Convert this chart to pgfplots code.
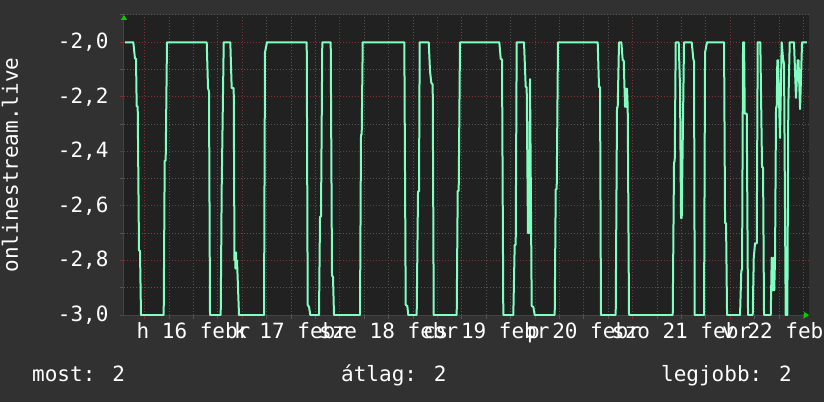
\documentclass[border=0pt]{standalone}
\usepackage{pgfplots}
\pgfplotsset{compat=1.18}
\usepackage{fontspec}
\setmainfont{DejaVu Sans Mono}
\usetikzlibrary{arrows.meta}
\definecolor{outerbg}{HTML}{313131}
\definecolor{canvas}{HTML}{212121}
\definecolor{series}{HTML}{80FFC0}
\definecolor{majgrid}{HTML}{7A3434}
\definecolor{mingrid}{HTML}{555555}
\definecolor{axisgray}{HTML}{444444}
\definecolor{arrowgreen}{HTML}{00D000}
\newcommand{\chartfont}{\fontsize{21}{24}\selectfont}
\pgfplotstableread{
h v
-4.84 -2.0
-2.80 -2.0
-2.39 -2.06
-2.14 -2.06
-1.97 -2.235
-1.72 -2.235
-1.40 -2.764
-1.16 -2.764
-0.91 -3.0
4.67 -3.0
4.92 -2.434
5.16 -2.434
5.48 -2.0
15.25 -2.0
15.57 -2.168
15.81 -2.18
16.06 -3.0
18.69 -3.0
18.93 -2.539
19.43 -2.0
21.05 -2.0
21.39 -2.168
21.89 -2.168
22.08 -2.80
22.20 -2.77
22.33 -2.83
22.45 -2.77
22.57 -2.83
22.70 -2.80
23.19 -3.0
29.34 -3.0
29.58 -2.037
30.07 -2.0
39.84 -2.0
40.08 -2.963
40.40 -2.97
40.72 -3.0
42.86 -3.0
43.11 -2.639
43.35 -2.639
43.67 -2.0
45.74 -2.0
46.06 -2.856
46.30 -2.86
46.55 -3.0
52.94 -3.0
53.19 -2.339
53.36 -2.339
53.61 -2.0
63.84 -2.0
64.18 -2.963
64.57 -2.967
64.82 -3.0
66.88 -3.0
67.21 -2.547
67.45 -2.547
67.62 -2.0
69.84 -2.0
70.16 -2.106
70.48 -2.149
70.82 -2.155
71.07 -3.0
76.72 -3.0
76.97 -2.545
77.21 -2.545
77.53 -2.0
87.20 -2.0
87.54 -2.061
87.86 -2.063
88.18 -3.0
90.64 -3.0
90.98 -2.743
91.23 -2.743
91.47 -2.0
93.27 -2.0
93.69 -2.164
93.93 -2.164
94.25 -2.70
94.50 -2.70
94.75 -2.135
95.16 -2.967
95.56 -2.97
95.90 -3.0
100.82 -3.0
101.07 -2.539
101.31 -2.539
101.63 -2.0
111.39 -2.0
111.71 -2.164
111.96 -2.164
112.20 -3.0
115.82 -3.0
116.14 -2.239
116.31 -2.239
116.63 -2.0
117.20 -2.0
117.54 -2.066
117.79 -2.066
118.11 -2.237
118.28 -2.17
118.43 -2.237
118.60 -2.17
118.77 -2.237
119.09 -3.0
129.84 -3.0
130.16 -2.438
130.33 -2.438
130.58 -2.0
131.31 -2.0
131.63 -2.164
131.88 -2.645
132.05 -2.645
132.62 -2.0
134.51 -2.0
134.90 -2.061
135.08 -2.07
135.25 -3.0
137.54 -3.0
137.79 -2.037
138.28 -2.0
142.46 -2.0
142.71 -2.663
142.95 -2.663
143.20 -3.0
146.39 -3.0
146.71 -2.835
146.89 -2.835
147.13 -2.0
147.38 -2.0
147.55 -2.262
148.04 -2.262
148.36 -3.0
149.51 -3.0
149.76 -2.792
150.08 -2.737
150.50 -2.737
150.74 -2.0
151.38 -2.0
151.80 -2.459
152.05 -2.459
152.29 -3.0
153.94 -3.0
154.18 -2.79
154.38 -2.91
154.58 -2.79
154.80 -2.91
155.00 -2.79
155.24 -2.239
155.41 -2.239
155.56 -2.066
155.73 -2.066
156.22 -2.351
156.64 -2.0
156.96 -2.06
157.21 -2.08
157.62 -3.0
158.02 -3.0
158.26 -2.239
158.61 -2.0
159.66 -2.0
160.15 -2.204
160.57 -2.066
160.77 -2.066
161.15 -2.245
161.64 -2.0
162.80 -2.0
}\datatable
\begin{document}
\begin{tikzpicture}
\path[use as bounding box, fill=outerbg] (0pt,0pt) rectangle (824pt,402pt);
\begin{axis}[
  at={(124pt,87pt)}, anchor=south west,
  scale only axis, width=685pt, height=300pt,
  xmin=-5.09, xmax=163.35, ymin=-3, ymax=-1.9,
  axis background/.style={fill=canvas},
  axis x line=bottom, axis y line=left,
  axis line style={draw=axisgray, line width=1pt},
  x axis line style={-{Triangle[length=5pt,width=6pt,color=arrowgreen]}},
  y axis line style={-{Triangle[length=5pt,width=6pt,color=arrowgreen]}},
  xtick={0,24,48,72,96,120,144},
  xticklabels={h 16 febr,k 17 febr,sze 18 febr,cs 19 febr,p 20 febr,szo 21 febr,v 22 febr},
  minor xtick={6,12,18,30,36,42,54,60,66,78,84,90,102,108,114,126,132,138,150,156,162},
  ytick={-3,-2.8,-2.6,-2.4,-2.2,-2},
  yticklabels={{-3,0},{-2,8},{-2,6},{-2,4},{-2,2},{-2,0}},
  minor ytick={-2.9,-2.7,-2.5,-2.3,-2.1,-1.9},
  grid=both,
  major grid style={draw=majgrid, line width=1pt, dash pattern=on 1pt off 2pt},
  minor grid style={draw=mingrid, line width=1pt, dash pattern=on 1pt off 2pt},
  tick align=outside,
  major tick length=4pt, minor tick length=4pt,
  major tick style={draw=majgrid, line width=1pt},
  minor tick style={draw=mingrid, line width=1pt},
  tick label style={font=\chartfont, text=white},
  xticklabel style={xshift=48.8pt, yshift=0pt},
  yticklabel style={xshift=-8pt},
  ylabel={onlinestream.live},
  ylabel style={font=\chartfont, text=white, at={(rel axis cs:0,0.5)}, anchor=base, yshift=106pt},
]
\addplot[series, line width=2pt, line join=round] table[x=h, y=v] {\datatable};
\end{axis}
\node[font=\chartfont, text=white, anchor=base west, inner sep=0pt] at (32pt,20.3pt) {most: 2};
\node[font=\chartfont, text=white, anchor=base west, inner sep=0pt] at (341pt,20.3pt) {átlag: 2};
\node[font=\chartfont, text=white, anchor=base east, inner sep=0pt] at (792pt,20.3pt) {legjobb: 2};
\end{tikzpicture}
\end{document}
